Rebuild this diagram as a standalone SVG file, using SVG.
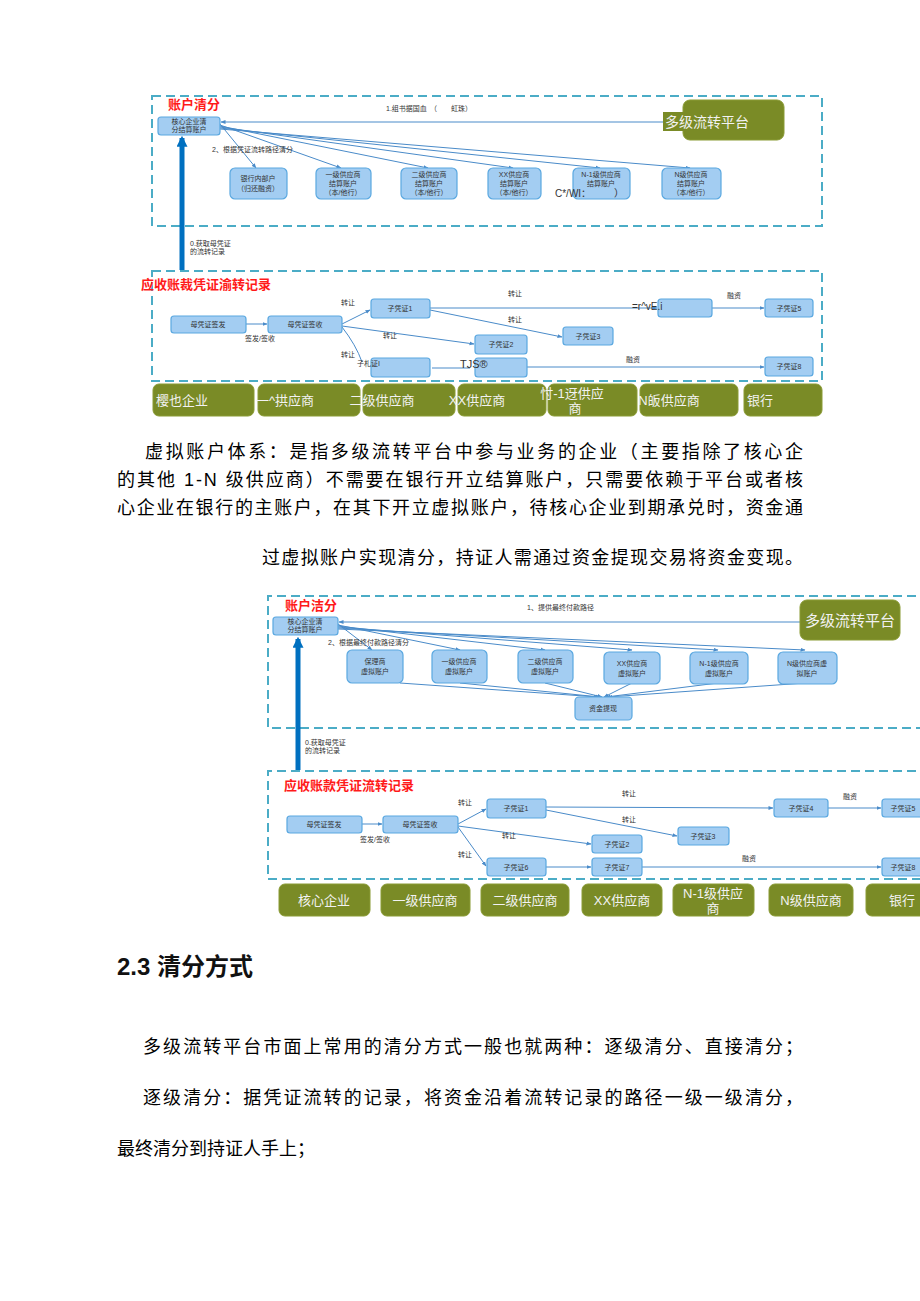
<svg xmlns="http://www.w3.org/2000/svg" width="920" height="1301" viewBox="0 0 920 1301">
<style>
text{font-family:"Liberation Sans","Noto Sans CJK SC",sans-serif;}
.frame{fill:none;stroke:#4bacc6;stroke-width:2;stroke-dasharray:9 5;}
.nd{fill:#a3cdf2;stroke:#5aa8e0;stroke-width:1.2;}
.nt{font-size:7px;fill:#333;text-anchor:middle;}
.lb{font-size:7px;fill:#333;}
.ol{fill:#7a8b26;stroke:#8a9b35;stroke-width:1;}
.ot{font-size:13px;fill:#f2f2f2;text-anchor:middle;}
.red{font-size:13px;font-weight:bold;fill:#ff1a1a;}
.ln{fill:none;stroke:#4a8bc9;stroke-width:1;marker-end:url(#ah);}
.ln2{fill:none;stroke:#4a8bc9;stroke-width:1;}
.big{fill:none;stroke:#0070c0;stroke-width:5;marker-end:url(#bh);}
.body{font-size:18px;fill:#000;}
</style>
<defs>
<marker id="ah" viewBox="0 0 10 10" refX="9" refY="5" markerWidth="5" markerHeight="5" orient="auto"><path d="M0,1 L10,5 L0,9 z" fill="#4a8bc9"/></marker>
<marker id="bh" viewBox="0 0 10 10" refX="8" refY="5" markerWidth="2.2" markerHeight="2.2" orient="auto"><path d="M0,0 L10,5 L0,10 z" fill="#0070c0"/></marker>
</defs>
<rect width="920" height="1301" fill="#fff"/>

<!-- ============ Diagram 1 ============ -->
<g id="d1-frames">
<rect class="frame" x="152" y="96" width="670" height="130"/>
<rect class="frame" x="152" y="271" width="670" height="110"/>
</g>
<g id="d1-titles">
<text class="red" x="168" y="109">账户清分</text>
<text class="red" x="141" y="289" font-size="12" font-weight="normal">应收账裁凭证渝转记录</text>
</g>
<g id="d1-connectors">
<path class="ln" d="M663,122 L221,122"/>
<path class="ln" d="M220,124 L256,168"/>
<path class="ln" d="M220,125 L341,168"/>
<path class="ln" d="M220,126 L428,168"/>
<path class="ln" d="M220,127 L513,168"/>
<path class="ln" d="M220,128 L600,168"/>
<path class="ln" d="M220,129 L690,168"/>
<path class="big" d="M182,270 L182,138"/>
<path class="ln" d="M246,324 L267,324"/>
<path class="ln" d="M342,324 L370,310"/>
<path class="ln" d="M342,326 L474,344"/>
<path class="ln2" d="M342,327 Q356,345 362,362"/>
<path class="ln" d="M430,308 L657,308"/>
<path class="ln" d="M430,310 L562,337"/>
<path class="ln" d="M712,308 L764,308"/>
<path class="ln2" d="M432,368 L470,368"/>
<path class="ln" d="M527,367 L764,367"/>
</g>
<g id="d1-labels">
<text class="lb" x="386" y="111">1.组书据国血</text>
<text class="lb" x="430" y="111" fill="#f0b8c8">（　　虹珠）</text>
<text class="lb" x="212" y="152">2、根据凭证流转路径清分</text>
<text class="lb" x="190" y="246">0.获取母凭证</text>
<text class="lb" x="190" y="254">的流转记录</text>
<text class="lb" x="245" y="341">签发/签收</text>
<text class="lb" x="341" y="305">转让</text>
<text class="lb" x="508" y="296">转让</text>
<text class="lb" x="508" y="322">转让</text>
<text class="lb" x="383" y="338">转让</text>
<text class="lb" x="341" y="357">转让</text>
<text class="lb" x="727" y="298">融资</text>
<text class="lb" x="626" y="362">融资</text>
</g>
<g id="d1-core"><rect class="nd" x="158" y="117" width="62" height="18" rx="3"/><text class="nt" x="189" y="124">核心企业清</text><text class="nt" x="189" y="132">分结算账户</text></g>
<g id="d1-platform">
<rect x="683" y="100" width="101" height="40" rx="7" fill="#7a8b26" stroke="#8a9b35"/>
<rect x="663" y="112" width="88" height="19" fill="#7a8b26"/>
<text x="665" y="127" font-size="14" fill="#f2f2f2">多级流转平台</text>
</g>
<g id="d1-bank"><rect class="nd" x="230" y="168" width="57" height="31" rx="5"/><text class="nt" x="258" y="181">银行内部户</text><text class="nt" x="258" y="191">（归还融资）</text></g>
<g id="d1-s1"><rect class="nd" x="316" y="168" width="55" height="31" rx="5"/><text class="nt" x="343" y="177">一级供应商</text><text class="nt" x="343" y="186">结算账户</text><text class="nt" x="343" y="195">（本/他行）</text></g>
<g id="d1-s2"><rect class="nd" x="401" y="168" width="56" height="31" rx="5"/><text class="nt" x="429" y="177">二级供应商</text><text class="nt" x="429" y="186">结算账户</text><text class="nt" x="429" y="195">（本/他行）</text></g>
<g id="d1-sx"><rect class="nd" x="488" y="168" width="53" height="31" rx="5"/><text class="nt" x="514" y="177">XX供应商</text><text class="nt" x="514" y="186">结算账户</text><text class="nt" x="514" y="195">（本/他行）</text></g>
<g id="d1-sn1"><rect class="nd" x="573" y="168" width="57" height="31" rx="5"/><text class="nt" x="601" y="177">N-1级供应商</text><text class="nt" x="601" y="186">结算账户</text>
<text x="555" y="197" font-size="10" fill="#333">C*/WI：</text>
<text x="614" y="197" font-size="10" fill="#333">）</text></g>
<g id="d1-sn"><rect class="nd" x="662" y="168" width="59" height="31" rx="5"/><text class="nt" x="691" y="177">N级供应商</text><text class="nt" x="691" y="186">结算账户</text><text class="nt" x="691" y="195">（本/他行）</text></g>

<g id="d1-m1"><rect class="nd" x="171" y="316" width="75" height="17" rx="3"/><text class="nt" x="208" y="327">母凭证签发</text></g>
<g id="d1-m2"><rect class="nd" x="268" y="316" width="74" height="17" rx="3"/><text class="nt" x="305" y="327">母凭证签收</text></g>
<g id="d1-c1"><rect class="nd" x="371" y="299" width="59" height="19" rx="3"/><text class="nt" x="400" y="311">子凭证1</text></g>
<g id="d1-c2"><rect class="nd" x="475" y="335" width="52" height="19" rx="3"/><text class="nt" x="501" y="347">子凭证2</text></g>
<g id="d1-c3"><rect class="nd" x="563" y="327" width="50" height="18" rx="3"/><text class="nt" x="588" y="339">子凭证3</text></g>
<g id="d1-c4"><rect class="nd" x="658" y="299" width="54" height="18" rx="3"/><text x="632" y="310" font-size="10" fill="#333">=r^vE.i</text></g>
<g id="d1-c5"><rect class="nd" x="765" y="299" width="48" height="18" rx="3"/><text class="nt" x="789" y="311">子凭证5</text></g>
<g id="d1-c6"><rect class="nd" x="371" y="358" width="59" height="19" rx="3"/><text class="lb" x="357" y="366">子札证I</text></g>
<g id="d1-c7"><rect class="nd" x="475" y="358" width="52" height="19" rx="3"/><text x="460" y="368" font-size="11" fill="#333">TJS®</text></g>
<g id="d1-c8"><rect class="nd" x="765" y="357" width="48" height="19" rx="3"/><text class="nt" x="789" y="369">子凭证8</text></g>

<g id="d1-lanes">
<rect class="ol" x="153" y="384" width="101" height="32" rx="6"/><text class="ot" x="182" y="405">樱也企业</text>
<rect class="ol" x="258" y="384" width="102" height="32" rx="6"/><text class="ot" x="285" y="405">一^拱应商</text>
<rect class="ol" x="363" y="384" width="92" height="32" rx="6"/><text class="ot" x="382" y="405">二级供应商</text>
<rect class="ol" x="458" y="384" width="88" height="32" rx="6"/><text class="ot" x="477" y="405">XX供应商</text>
<rect class="ol" x="548" y="384" width="89" height="32" rx="6"/><text class="ot" x="572" y="398">忖-1迓供应</text><text class="ot" x="575" y="413">商</text>
<rect class="ol" x="640" y="384" width="98" height="32" rx="6"/><text class="ot" x="669" y="405">N皈供应商</text>
<rect class="ol" x="744" y="384" width="78" height="32" rx="6"/><text class="ot" x="760" y="405">银行</text>
</g>

<!-- ============ Body text ============ -->
<g id="para1">
<text class="body" x="145" y="458" textLength="658" lengthAdjust="spacing">虚拟账户体系：是指多级流转平台中参与业务的企业（主要指除了核心企</text>
<text class="body" x="117" y="486" textLength="686" lengthAdjust="spacing">的其他 1-N 级供应商）不需要在银行开立结算账户，只需要依赖于平台或者核</text>
<text class="body" x="117" y="514" textLength="686" lengthAdjust="spacing">心企业在银行的主账户，在其下开立虚拟账户，待核心企业到期承兑时，资金通</text>
<text class="body" x="262" y="564" textLength="541" lengthAdjust="spacing">过虚拟账户实现清分，持证人需通过资金提现交易将资金变现。</text>
</g>

<!-- ============ Diagram 2 ============ -->
<g id="d2-frames">
<path class="frame" d="M930,596 L268,596 L268,728 L930,728"/>
<path class="frame" d="M930,771 L268,771 L268,879 L930,879"/>
</g>
<g id="d2-titles">
<text class="red" x="285" y="610">账户洁分</text>
<text class="red" x="284" y="790" font-size="12">应收账款凭证流转记录</text>
</g>
<g id="d2-connectors">
<path class="ln" d="M800,622 L339,622"/>
<path class="ln" d="M338,624 L372,650"/>
<path class="ln" d="M338,625 L460,650"/>
<path class="ln" d="M338,626 L545,650"/>
<path class="ln" d="M338,627 L632,650"/>
<path class="ln" d="M338,628 L718,650"/>
<path class="ln" d="M338,629 L805,650"/>
<path class="ln" d="M400,683 L598,697"/>
<path class="ln" d="M460,683 L600,697"/>
<path class="ln" d="M545,683 L602,697"/>
<path class="ln" d="M632,683 L604,697"/>
<path class="ln" d="M718,683 L606,697"/>
<path class="ln" d="M805,683 L608,697"/>
<path class="big" d="M298,770 L298,639"/>
<path class="ln" d="M362,824 L382,824"/>
<path class="ln" d="M458,824 L486,809"/>
<path class="ln" d="M458,826 L591,844"/>
<path class="ln" d="M458,827 L486,866"/>
<path class="ln" d="M546,807 L773,808"/>
<path class="ln" d="M546,810 L677,836"/>
<path class="ln" d="M828,808 L881,808"/>
<path class="ln" d="M546,867 L591,867"/>
<path class="ln" d="M642,867 L881,867"/>
</g>
<g id="d2-labels">
<text class="lb" x="527" y="610">1、提供最终付款路径</text>
<text class="lb" x="328" y="645">2、根据最终付款路径清分</text>
<text class="lb" x="305" y="745">0.获取母凭证</text>
<text class="lb" x="305" y="753">的流转记录</text>
<text class="lb" x="360" y="842">签发/签收</text>
<text class="lb" x="458" y="805">转让</text>
<text class="lb" x="622" y="796">转让</text>
<text class="lb" x="622" y="822">转让</text>
<text class="lb" x="502" y="838">转让</text>
<text class="lb" x="458" y="857">转让</text>
<text class="lb" x="843" y="799">融资</text>
<text class="lb" x="742" y="861">融资</text>
</g>
<g id="d2-core"><rect class="nd" x="273" y="617" width="65" height="18" rx="3"/><text class="nt" x="305" y="624">核心企业清</text><text class="nt" x="305" y="632">分结算账户</text></g>
<g id="d2-platform"><rect class="ol" x="800" y="600" width="100" height="40" rx="7"/><text x="850" y="626" font-size="15" fill="#f2f2f2" text-anchor="middle">多级流转平台</text></g>
<g id="d2-v0"><rect class="nd" x="347" y="650" width="56" height="33" rx="5"/><text class="nt" x="375" y="664">保理商</text><text class="nt" x="375" y="674">虚拟账户</text></g>
<g id="d2-v1"><rect class="nd" x="432" y="650" width="55" height="33" rx="5"/><text class="nt" x="459" y="664">一级供应商</text><text class="nt" x="459" y="674">虚拟账户</text></g>
<g id="d2-v2"><rect class="nd" x="518" y="650" width="55" height="33" rx="5"/><text class="nt" x="545" y="664">二级供应商</text><text class="nt" x="545" y="674">虚拟账户</text></g>
<g id="d2-vx"><rect class="nd" x="604" y="652" width="56" height="32" rx="5"/><text class="nt" x="632" y="666">XX供应商</text><text class="nt" x="632" y="676">虚拟账户</text></g>
<g id="d2-vn1"><rect class="nd" x="690" y="652" width="58" height="32" rx="5"/><text class="nt" x="719" y="666">N-1级供应商</text><text class="nt" x="719" y="676">虚拟账户</text></g>
<g id="d2-vn"><rect class="nd" x="778" y="652" width="59" height="32" rx="5"/><text class="nt" x="807" y="666">N级供应商虚</text><text class="nt" x="807" y="676">拟账户</text></g>
<g id="d2-cash"><rect class="nd" x="575" y="697" width="57" height="23" rx="4"/><text class="nt" x="603" y="711">资金提现</text></g>

<g id="d2-m1"><rect class="nd" x="287" y="816" width="75" height="17" rx="3"/><text class="nt" x="324" y="827">母凭证签发</text></g>
<g id="d2-m2"><rect class="nd" x="383" y="816" width="75" height="17" rx="3"/><text class="nt" x="420" y="827">母凭证签收</text></g>
<g id="d2-c1"><rect class="nd" x="487" y="799" width="59" height="19" rx="3"/><text class="nt" x="516" y="811">子凭证1</text></g>
<g id="d2-c2"><rect class="nd" x="592" y="835" width="50" height="18" rx="3"/><text class="nt" x="617" y="847">子凭证2</text></g>
<g id="d2-c3"><rect class="nd" x="678" y="827" width="51" height="18" rx="3"/><text class="nt" x="703" y="839">子凭证3</text></g>
<g id="d2-c4"><rect class="nd" x="774" y="799" width="54" height="18" rx="3"/><text class="nt" x="801" y="811">子凭证4</text></g>
<g id="d2-c5"><rect class="nd" x="882" y="799" width="50" height="18" rx="3"/><text class="nt" x="903" y="811">子凭证5</text></g>
<g id="d2-c6"><rect class="nd" x="487" y="858" width="59" height="18" rx="3"/><text class="nt" x="516" y="870">子凭证6</text></g>
<g id="d2-c7"><rect class="nd" x="592" y="858" width="50" height="18" rx="3"/><text class="nt" x="617" y="870">子凭证7</text></g>
<g id="d2-c8"><rect class="nd" x="882" y="858" width="50" height="18" rx="3"/><text class="nt" x="903" y="870">子凭证8</text></g>

<g id="d2-lanes">
<rect class="ol" x="279" y="884" width="91" height="32" rx="6"/><text class="ot" x="324" y="905">核心企业</text>
<rect class="ol" x="381" y="884" width="89" height="32" rx="6"/><text class="ot" x="425" y="905">一级供应商</text>
<rect class="ol" x="481" y="884" width="88" height="32" rx="6"/><text class="ot" x="525" y="905">二级供应商</text>
<rect class="ol" x="582" y="884" width="80" height="32" rx="6"/><text class="ot" x="622" y="905">XX供应商</text>
<rect class="ol" x="673" y="884" width="81" height="32" rx="6"/><text class="ot" x="713" y="898">N-1级供应</text><text class="ot" x="713" y="913">商</text>
<rect class="ol" x="769" y="884" width="84" height="32" rx="6"/><text class="ot" x="811" y="905">N级供应商</text>
<rect class="ol" x="866" y="884" width="70" height="32" rx="6"/><text class="ot" x="902" y="905">银行</text>
</g>

<!-- ============ Section 2.3 ============ -->
<g id="section">
<text x="117" y="975" font-size="24" font-weight="bold" fill="#111">2.3 清分方式</text>
<text class="body" x="143" y="1053" textLength="660" lengthAdjust="spacing">多级流转平台市面上常用的清分方式一般也就两种：逐级清分、直接清分；</text>
<text class="body" x="143" y="1104" textLength="660" lengthAdjust="spacing">逐级清分：据凭证流转的记录，将资金沿着流转记录的路径一级一级清分，</text>
<text class="body" x="117" y="1155">最终清分到持证人手上；</text>
</g>
</svg>
